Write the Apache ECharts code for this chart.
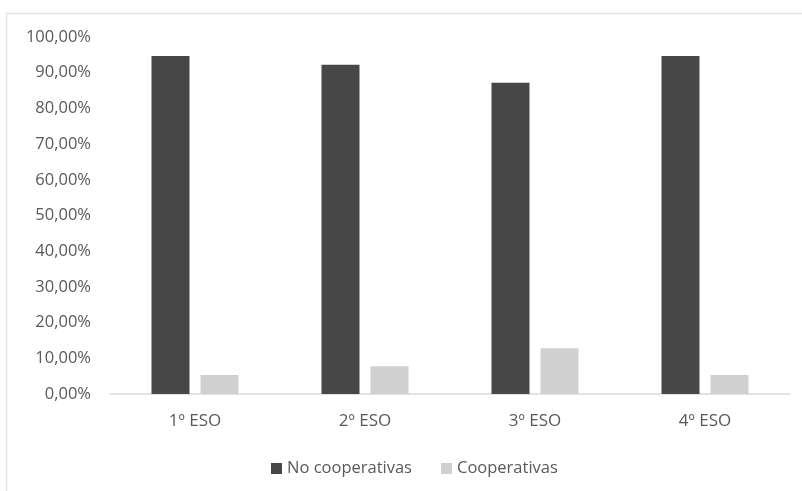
<!DOCTYPE html>
<html>
<head>
<meta charset="utf-8">
<style>
  html, body { margin: 0; padding: 0; background: #ffffff; }
  #chart { width: 802px; height: 491px; }
</style>
<script src="https://cdn.jsdelivr.net/npm/echarts@6/dist/echarts.min.js"></script>
</head>
<body>
<div id="chart"></div>
<script>
// Courses and share of students (%) in each group
const categories = ['1º ESO', '2º ESO', '3º ESO', '4º ESO'];
const noCooperativas = [94.7, 92.2, 87.2, 94.7];
const cooperativas = [5.3, 7.8, 12.8, 5.3];
const yTicks = [0, 10, 20, 30, 40, 50, 60, 70, 80, 90, 100];

const textColor = '#595959';
const fontFamily = '"Open Sans", sans-serif';

const fmtPct = v => v.toFixed(2).replace('.', ',') + '%';

const chart = echarts.init(document.getElementById('chart'));
chart.setOption({
  backgroundColor: '#ffffff',
  animation: false,
  graphic: [{
    type: 'rect',
    silent: true,
    shape: { x: 6.5, y: 13.5, width: 820, height: 500 },
    style: { fill: 'none', stroke: '#e3e3e3', lineWidth: 1.5 }
  }],
  grid: { left: 110, right: 12, top: 37, bottom: 97, containLabel: false },
  legend: {
    top: 455,
    left: 266,
    itemWidth: 11,
    itemHeight: 11,
    itemGap: 29,
    icon: 'rect',
    textStyle: { color: textColor, fontSize: 16.5, fontFamily: fontFamily },
    data: ['No cooperativas', 'Cooperativas']
  },
  xAxis: {
    type: 'category',
    data: categories,
    axisLine: { lineStyle: { color: '#d9d9d9', width: 1.5 } },
    axisTick: { show: false },
    axisLabel: { color: textColor, fontSize: 17, fontFamily: fontFamily, margin: 19 }
  },
  yAxis: {
    type: 'value',
    min: yTicks[0],
    max: yTicks[yTicks.length - 1],
    interval: 10,
    splitLine: { show: false },
    axisLine: { show: false },
    axisTick: { show: false },
    axisLabel: {
      color: textColor, fontSize: 16.5, fontFamily: fontFamily, margin: 19,
      formatter: v => fmtPct(v)
    }
  },
  series: [
    {
      name: 'No cooperativas',
      type: 'bar',
      data: noCooperativas,
      barWidth: 38,
      barGap: '29%',
      itemStyle: { color: '#474747' }
    },
    {
      name: 'Cooperativas',
      type: 'bar',
      data: cooperativas,
      barWidth: 38,
      barGap: '29%',
      itemStyle: { color: '#d0d0d0' }
    }
  ]
});
</script>
</body>
</html>
